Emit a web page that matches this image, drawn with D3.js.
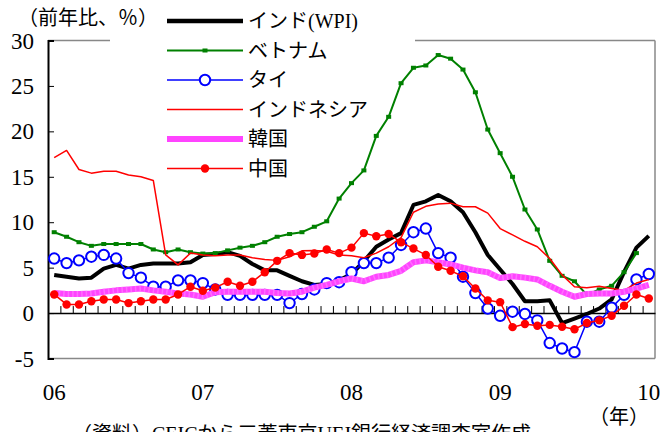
<!DOCTYPE html>
<html><head><meta charset="utf-8">
<script src="https://cdn.jsdelivr.net/npm/d3@7"></script>
<style>
html,body{margin:0;padding:0;background:#fff;}
svg{display:block;}
</style>
</head><body>
<svg id="chart" width="661" height="432"></svg>
<script>
// ---- data ----
const months = d3.range(49).map(i => { const y = 2006 + Math.floor(i/12), m = i%12 + 1; return y + "-" + (m<10?"0":"") + m; });
const yearTicks = ["06","07","08","09","10"];
const yTicks = [-5,0,5,10,15,20,25,30];
const seriesNames = ["インド(WPI)","ベトナム","タイ","インドネシア","韓国","中国"];

const india = [4.2,4.0,3.8,3.9,4.9,5.3,4.9,5.3,5.45,5.45,5.45,5.6,
  6.4,6.5,6.7,6.3,5.4,4.7,4.7,4.1,3.5,3.1,3.2,3.6,
  4.3,5.7,7.3,8.1,8.8,11.9,12.3,13.0,12.3,11.1,8.9,6.4,
  4.8,3.2,1.3,1.3,1.4,-1.1,-0.6,-0.1,0.5,1.5,4.5,7.2,8.5];
const vietnam = [8.9,8.4,7.8,7.4,7.6,7.6,7.6,7.6,7.0,6.7,7.0,6.7,
  6.55,6.6,6.9,7.2,7.4,7.8,8.4,8.7,8.9,9.5,10.1,12.6,
  14.3,15.7,19.5,21.6,25.3,27.0,27.25,28.4,28.0,26.8,24.3,20.2,
  17.6,15.0,11.4,9.2,5.75,4.1,3.5,2.0,2.6,3.0,4.5,6.6,null];
const thailand = [6.0,5.5,5.8,6.2,6.4,6.0,4.4,3.9,2.9,2.9,3.6,3.6,
  3.3,2.6,2.0,2.0,2.0,2.0,2.0,1.1,2.1,2.6,3.3,3.4,
  4.5,5.5,5.5,6.1,7.5,8.9,9.3,6.6,6.1,4.0,2.2,0.5,
  -0.3,0.15,-0.1,-0.8,-3.3,-3.9,-4.3,-0.95,-0.95,0.6,2.0,3.7,4.3];
const indonesia = [17.1,17.9,15.8,15.4,15.6,15.6,15.2,15.0,14.6,6.4,5.3,6.6,
  6.4,6.3,6.4,6.4,6.1,5.9,5.8,6.2,6.85,6.9,6.8,6.4,
  6.3,6.1,6.6,7.3,8.3,11.1,11.75,12.0,12.1,11.7,11.7,11.0,
  9.3,8.6,7.9,7.3,6.0,4.2,2.9,2.8,2.95,2.7,2.5,3.3,3.7];
const korea = [2.2,2.1,2.1,2.15,2.35,2.5,2.6,2.7,2.5,2.35,2.15,2.05,
  1.8,2.3,2.35,2.35,2.35,2.35,2.2,2.15,2.35,2.8,3.1,3.5,
  3.8,3.5,4.0,4.2,4.65,5.6,5.8,5.6,5.35,5.0,4.7,4.5,
  3.85,4.05,3.9,3.7,3.0,2.35,1.8,2.1,2.15,2.15,2.35,2.7,3.1];
const china = [2.05,0.95,0.95,1.3,1.5,1.5,1.1,1.3,1.5,1.5,2.05,2.9,
  2.45,2.8,3.45,3.0,3.45,4.5,5.75,6.6,6.4,6.55,7.0,6.6,
  7.2,8.8,8.45,8.7,7.8,7.1,6.4,5.1,4.65,4.05,2.7,1.4,
  1.2,-1.55,-1.2,-1.4,-1.3,-1.5,-1.78,-1.1,-0.8,-0.3,0.8,2.05,1.6];

// ---- layout ----
const L = 48, R = 655, T = 40.5, B = 358.5;
const svg = d3.select("#chart");
const x = d3.scaleBand().domain(months).range([L, R]).padding(0);
const y = d3.scaleLinear().domain([-5, 30]).range([B, T]);
const cx = i => x(months[i]) + x.bandwidth()/2;
const serif = "'Liberation Serif','Times New Roman',serif";
const jfont = "'Liberation Serif','Noto Sans CJK JP',serif";

// frame
const g = svg.append("g");
g.append("line").attr("x1", L).attr("x2", 110).attr("y1", T).attr("y2", T).attr("stroke", "#888").attr("stroke-width", 1.5);
g.append("line").attr("x1", 415).attr("x2", R).attr("y1", T).attr("y2", T).attr("stroke", "#888").attr("stroke-width", 1.5);
g.append("line").attr("x1", R).attr("x2", R).attr("y1", T).attr("y2", B).attr("stroke", "#888").attr("stroke-width", 1.5);
g.append("line").attr("x1", L).attr("x2", R).attr("y1", B).attr("y2", B).attr("stroke", "#888").attr("stroke-width", 1.5);

// y axis
const yAxis = d3.axisRight(y).tickValues(yTicks).tickSize(6).tickFormat("");
const ya = svg.append("g").attr("transform", `translate(${L},0)`).call(yAxis);
ya.select(".domain").attr("stroke", "#000").attr("stroke-width", 2);
ya.selectAll(".tick line").attr("stroke", "#000").attr("stroke-width", 1);
svg.append("g").selectAll("text").data(yTicks).join("text")
  .attr("x", 34).attr("y", d => y(d) + 8)
  .attr("text-anchor", "end").attr("font-family", serif).attr("font-size", 23)
  .text(d => d);

// zero line with category ticks
const zx = d3.scaleLinear().domain([0, 49]).range([L, R]);
const xa = svg.append("g").attr("transform", `translate(0,${y(0)})`)
  .call(d3.axisTop(zx).tickValues(d3.range(1, 49)).tickSize(7).tickFormat("").tickSizeOuter(0));
xa.select(".domain").attr("stroke", "#000").attr("stroke-width", 1.5);
xa.selectAll(".tick line").attr("stroke", "#000").attr("stroke-width", 1);

// year labels
svg.append("g").selectAll("text").data(yearTicks).join("text")
  .attr("x", (d, i) => cx(i*12)).attr("y", 400)
  .attr("text-anchor", "middle").attr("font-family", serif).attr("font-size", 23)
  .text(d => d);

// series
const lineGen = d3.line().defined(d => d != null).x((d, i) => cx(i)).y(d => y(d));
function path(data, color, w) {
  svg.append("path").datum(data).attr("d", lineGen).attr("fill", "none")
    .attr("stroke", color).attr("stroke-width", w).attr("stroke-linejoin", "round");
}
const pts = data => data.map((v, i) => ({v, i})).filter(d => d.v != null);

// India
path(india, "#000", 4);
// Vietnam
path(vietnam, "#008000", 2);
svg.append("g").selectAll("rect").data(pts(vietnam)).join("rect")
  .attr("x", d => cx(d.i) - 2.5).attr("y", d => y(d.v) - 2).attr("width", 5).attr("height", 4).attr("fill", "#008000");
// Thailand
path(thailand, "#0000ff", 1.5);
svg.append("g").selectAll("circle").data(pts(thailand)).join("circle")
  .attr("cx", d => cx(d.i)).attr("cy", d => y(d.v)).attr("r", 5.2)
  .attr("fill", "#fff").attr("stroke", "#0000ff").attr("stroke-width", 2);
// Indonesia
path(indonesia, "#ff0000", 1.5);
// Korea
path(korea, "#ff44ff", 6);
svg.append("path").datum(korea).attr("d", lineGen).attr("fill", "none")
  .attr("stroke", "#ff88ff").attr("stroke-width", 6).attr("stroke-dasharray", "1.5 3").attr("opacity", 0.6);
// China
path(china, "#ff0000", 1.5);
svg.append("g").selectAll("circle").data(pts(china)).join("circle")
  .attr("cx", d => cx(d.i)).attr("cy", d => y(d.v)).attr("r", 4.2).attr("fill", "#ff0000");

// legend
const lg = svg.append("g");
const rowY = i => 21 + i * 29.5;
const lx1 = 167, lx2 = 243, lm = 205;
const styles = [
  {c: "#000", w: 4.5}, {c: "#008000", w: 2}, {c: "#0000ff", w: 1.5},
  {c: "#ff0000", w: 1.5}, {c: "#ff44ff", w: 6}, {c: "#ff0000", w: 1.5}
];
seriesNames.forEach((n, i) => {
  lg.append("line").attr("x1", lx1).attr("x2", lx2).attr("y1", rowY(i)).attr("y2", rowY(i))
    .attr("stroke", styles[i].c).attr("stroke-width", styles[i].w);
  lg.append("text").attr("x", 248).attr("y", rowY(i) + 7)
    .attr("font-family", jfont).attr("font-size", 20).text(n);
});
lg.append("rect").attr("x", lm - 2.5).attr("y", rowY(1) - 2).attr("width", 5).attr("height", 4).attr("fill", "#008000");
lg.append("circle").attr("cx", lm).attr("cy", rowY(2)).attr("r", 5.2).attr("fill", "#fff").attr("stroke", "#0000ff").attr("stroke-width", 2);
lg.append("circle").attr("cx", lm).attr("cy", rowY(5)).attr("r", 4.2).attr("fill", "#ff0000");

// titles
svg.append("text").attr("x", 18).attr("y", 25).attr("font-family", jfont).attr("font-size", 20).text("（前年比、％）");
svg.append("text").attr("x", 589).attr("y", 424).attr("font-family", jfont).attr("font-size", 20).text("（年）");
svg.append("text").attr("x", 72).attr("y", 441).attr("font-family", jfont).attr("font-size", 20).text("（資料）CEICから三菱東京UFJ銀行経済調査室作成");
</script>
</body></html>
